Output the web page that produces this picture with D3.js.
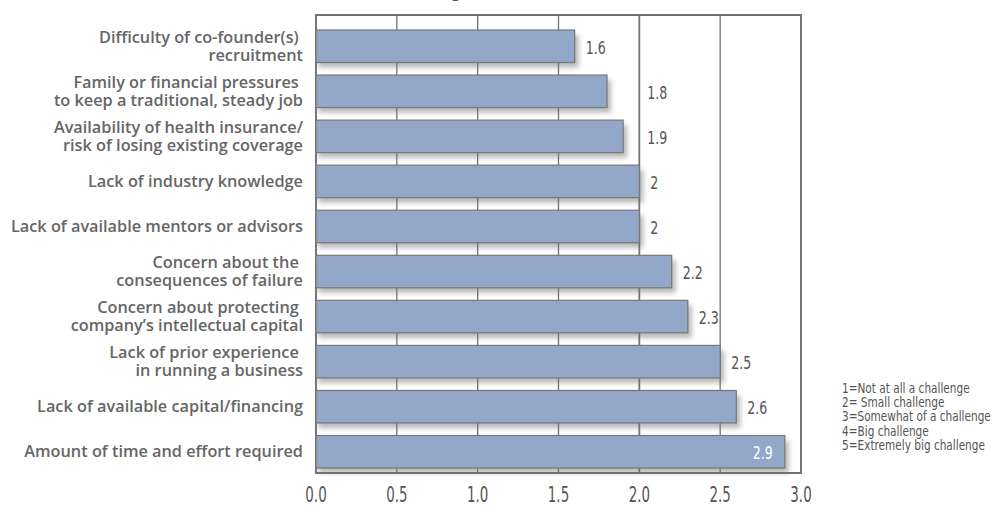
<!DOCTYPE html>
<html><head><meta charset="utf-8">
<script src="https://cdn.jsdelivr.net/npm/d3@7"></script>
<style>
html,body{margin:0;padding:0;background:#fff;}
svg{display:block;}
</style></head>
<body>
<svg id="chart" width="995" height="507"></svg>
<script>
// ---- data ----
const categories = [
  ["Difficulty of co-founder(s) ", "recruitment"],
  ["Family or financial pressures ", "to keep a traditional, steady job"],
  ["Availability of health insurance/", "risk of losing existing coverage"],
  ["Lack of industry knowledge"],
  ["Lack of available mentors or advisors"],
  ["Concern about the ", "consequences of failure"],
  ["Concern about protecting ", "company’s intellectual capital"],
  ["Lack of prior experience ", "in running a business"],
  ["Lack of available capital/financing"],
  ["Amount of time and effort required"]
];
const values = [1.6, 1.8, 1.9, 2, 2, 2.2, 2.3, 2.5, 2.6, 2.9];
const valueLabels = ["1.6", "1.8", "1.9", "2", "2", "2.2", "2.3", "2.5", "2.6", "2.9"];
const xTicks = [0, 0.5, 1, 1.5, 2, 2.5, 3];
const xTickLabels = ["0.0", "0.5", "1.0", "1.5", "2.0", "2.5", "3.0"];
const legendLines = [
  "1=Not at all a challenge",
  "2= Small challenge",
  "3=Somewhat of a challenge",
  "4=Big challenge",
  "5=Extremely big challenge"
];
const titleText = "Mean Rating Score (1-5)";

// ---- layout ----
const svg = d3.select("#chart");
const frame = {left: 316, right: 801, top: 15, bottom: 473};
const x = d3.scaleLinear().domain([0, 3]).range([frame.left, frame.right]);
const idx = d3.range(categories.length);
const y = d3.scaleBand().domain(idx).range([30, 468]).paddingInner(0.279).paddingOuter(0);

const labelFont = "'Open Sans','Lato',sans-serif";
const condFont = "'DejaVu Sans',sans-serif";
const gridColor = "#727272";

const defs = svg.append("defs");
const blur = defs.append("filter").attr("id", "sh").attr("x", "-10%").attr("y", "-50%").attr("width", "130%").attr("height", "220%");
blur.append("feGaussianBlur").attr("stdDeviation", 2.5);

// condensed text helper: horizontally squeezed glyphs
function condText(g, sx) {
  return g.attr("x", 0).attr("y", 0).attr("font-family", condFont)
    .attr("transform", d => `translate(${d.tx},${d.ty}) scale(${sx},1)`);
}

// title (clipped at the top, as in the source image)
svg.append("text").attr("x", 455).attr("y", -3).attr("text-anchor", "middle")
  .attr("font-family", labelFont).attr("font-size", 16).attr("fill", "#555").text(titleText);

// shadows
svg.append("g").selectAll("rect").data(idx).join("rect")
  .attr("x", x(0) + 2).attr("y", i => y(i) + 5)
  .attr("width", i => x(values[i]) - x(0) + 2).attr("height", y.bandwidth())
  .attr("fill", "#8a8a8a").attr("opacity", 0.6).attr("filter", "url(#sh)");

// gridlines
svg.append("g").selectAll("line").data(xTicks).join("line")
  .attr("x1", d => x(d)).attr("x2", d => x(d))
  .attr("y1", frame.top).attr("y2", frame.bottom)
  .attr("stroke", gridColor).attr("stroke-width", d => d === 2 ? 1.8 : 1.3);

// frame
svg.append("path")
  .attr("d", `M${frame.left},${frame.top}H${frame.right}V${frame.bottom}H${frame.left}Z`)
  .attr("fill", "none").attr("stroke", gridColor).attr("stroke-width", 1.8);

// bars
svg.append("g").selectAll("rect").data(idx).join("rect")
  .attr("x", x(0)).attr("y", i => y(i))
  .attr("width", i => x(values[i]) - x(0)).attr("height", y.bandwidth())
  .attr("fill", "#93a7c9").attr("stroke", "#777").attr("stroke-width", 1.2);

// value labels
const last = idx.length - 1;
const valData = idx.map(i => {
  const v = values[i];
  let tx;
  if (i === last) tx = x(v) - 12;
  else if (v > 1.7 && v < 2) tx = x(2) + 8;
  else tx = x(v) + 11;
  return {i, tx, ty: y(i) + y.bandwidth() / 2 + 1};
});
svg.append("g").selectAll("text").data(valData).join("text")
  .call(condText, 0.7)
  .attr("dy", "0.36em")
  .attr("text-anchor", d => d.i === last ? "end" : "start")
  .attr("font-size", 18)
  .attr("fill", d => d.i === last ? "#fff" : "#555")
  .text(d => valueLabels[d.i]);

// category labels
const cat = svg.append("g").selectAll("text").data(idx).join("text")
  .attr("text-anchor", "end")
  .attr("font-family", labelFont).attr("font-weight", 600).attr("font-size", 16.3)
  .attr("fill", "#666").style("white-space", "pre");
cat.each(function(i) {
  const lines = categories[i];
  const cy = y(i) + y.bandwidth() / 2;
  const lh = 18;
  d3.select(this).selectAll("tspan").data(lines).join("tspan")
    .attr("x", 303)
    .attr("y", (d, k) => cy + (k - (lines.length - 1) / 2) * lh)
    .attr("dy", "0.35em")
    .text(d => d);
});

// x tick labels
svg.append("g").selectAll("text").data(xTicks.map((d, k) => ({k, tx: x(d), ty: 502}))).join("text")
  .call(condText, 0.64)
  .attr("text-anchor", "middle")
  .attr("font-size", 21).attr("fill", "#555")
  .text(d => xTickLabels[d.k]);

// legend
svg.append("g").selectAll("text").data(legendLines.map((t, k) => ({t, tx: 842, ty: 388 + k * 14.3}))).join("text")
  .call(condText, 0.78)
  .attr("dy", "0.36em")
  .attr("font-size", 13.5).attr("fill", "#555")
  .text(d => d.t);
</script>
</body></html>
